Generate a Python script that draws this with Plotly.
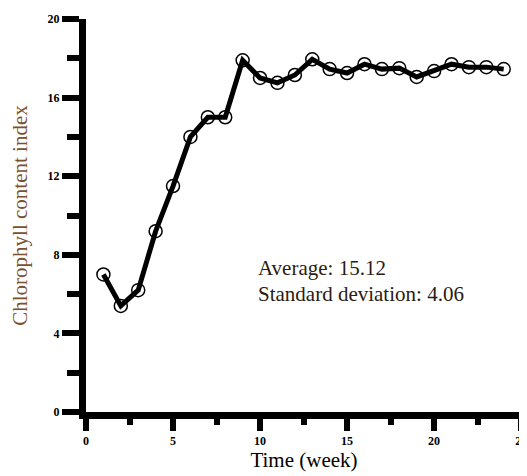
import plotly.graph_objects as go

# chlorophyll content index per week
weeks = list(range(1, 25))
cci = [7.0, 5.4, 6.2, 9.2, 11.5, 14.0, 15.0, 15.0, 17.9, 17.0, 16.75, 17.15,
       17.95, 17.45, 17.25, 17.7, 17.45, 17.5, 17.05, 17.35, 17.7, 17.55, 17.55, 17.45]
stats_text = ["Average: 15.12", "Standard deviation: 4.06"]

serif = "Liberation Serif, Times New Roman, serif"

fig = go.Figure()
# circles first so the thick line sits on top of them
fig.add_trace(go.Scatter(x=weeks, y=cci, mode='markers',
                         marker=dict(symbol='circle', size=13, color='white',
                                     line=dict(color='black', width=1.5)),
                         showlegend=False))
fig.add_trace(go.Scatter(x=weeks, y=cci, mode='lines',
                         line=dict(color='black', width=5),
                         showlegend=False))

fig.add_annotation(x=9.75, y=7.35, text=stats_text[0], showarrow=False,
                   xanchor='left', yanchor='middle',
                   font=dict(family=serif, size=21, color='#2a1c10'))
fig.add_annotation(x=9.75, y=6.0, text=stats_text[1], showarrow=False,
                   xanchor='left', yanchor='middle',
                   font=dict(family=serif, size=21, color='#2a1c10'))

# page body has an 8px margin, so the figure is a bit smaller than the window
fig.update_layout(
    width=519, height=468,
    margin=dict(l=78, r=5, t=11, b=64),
    plot_bgcolor='white', paper_bgcolor='white',
    font=dict(family=serif, color='black'),
    xaxis=dict(range=[0, 25.05], tickvals=[0, 5, 10, 15, 20, 25], automargin=False,
               showline=True, linecolor='black', linewidth=7,
               ticks='outside', ticklen=12, tickwidth=6, tickcolor='black',
               minor=dict(tickvals=[2.5, 7.5, 12.5, 17.5, 22.5], ticks='outside',
                          ticklen=6, tickwidth=6, tickcolor='black'),
               showgrid=False, zeroline=False, ticklabeloverflow='allow',
               tickfont=dict(family=serif, size=12, weight='bold'),
               title=dict(text='Time (week)', standoff=7,
                          font=dict(family=serif, size=21, color='black'))),
    yaxis=dict(range=[0, 20], tickvals=[0, 4, 8, 12, 16, 20], automargin=False,
               showline=True, linecolor='black', linewidth=7,
               ticks='outside', ticklen=17, tickwidth=6, tickcolor='black',
               minor=dict(tickvals=[2, 6, 10, 14, 18], ticks='outside',
                          ticklen=12, tickwidth=6, tickcolor='black'),
               showgrid=False, zeroline=False,
               tickfont=dict(family=serif, size=12, weight='bold'),
               title=dict(text='Chlorophyll content index', standoff=28,
                          font=dict(family=serif, size=21, color='#7a5230'))),
)

fig.write_html("out.html")
